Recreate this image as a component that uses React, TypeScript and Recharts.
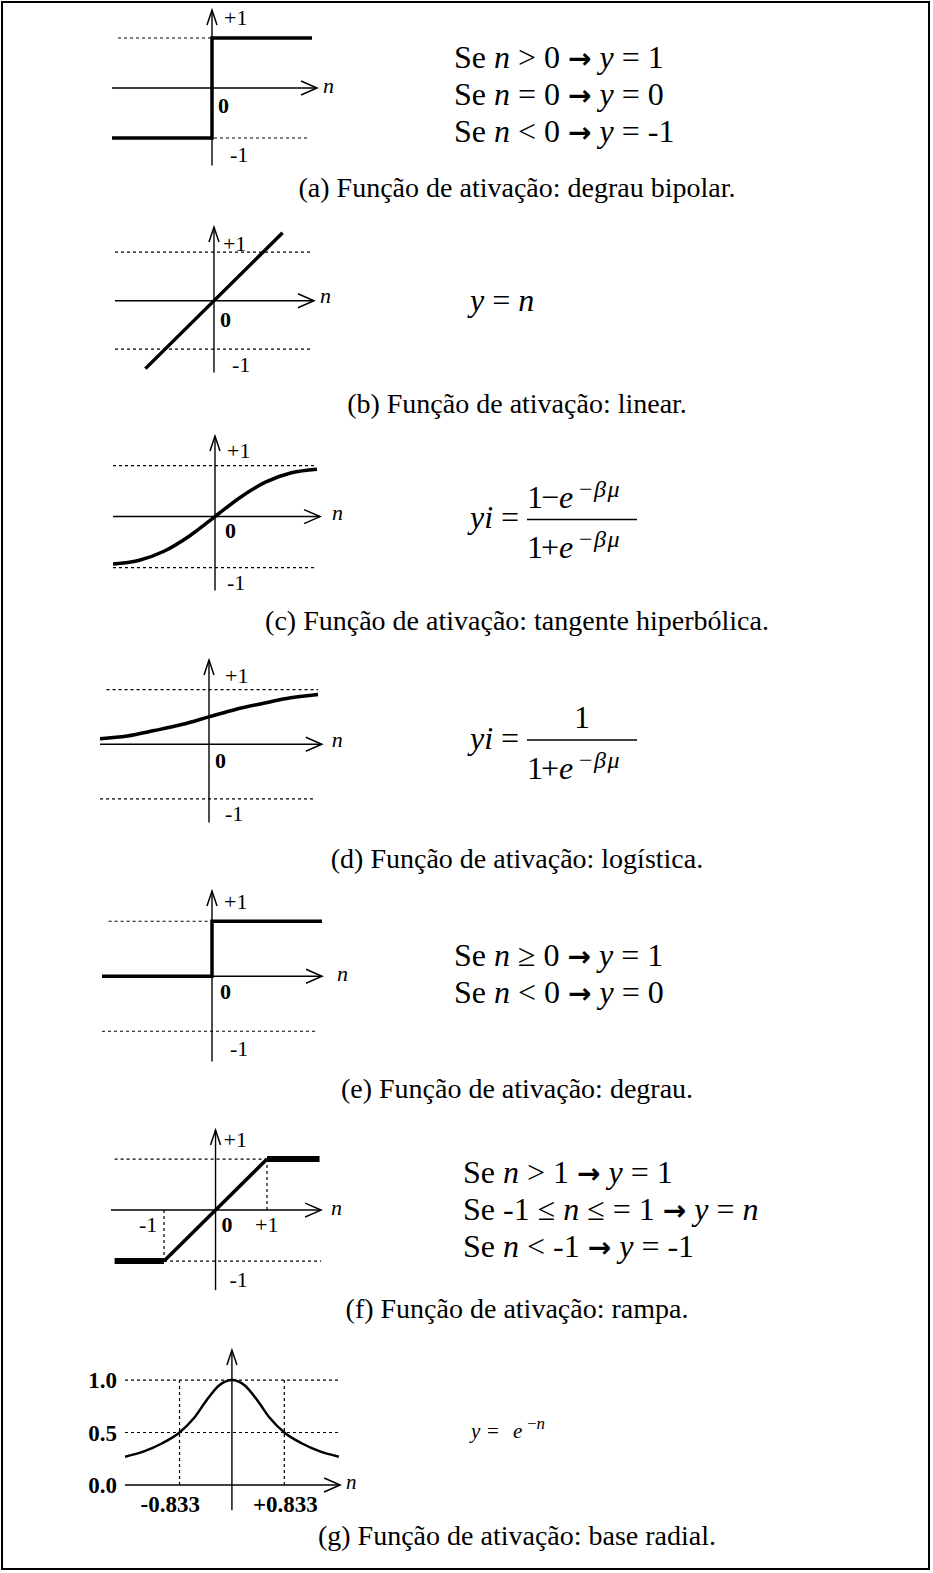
import React from 'react';
import { LineChart, Line, XAxis, YAxis, ReferenceLine, ReferenceDot } from 'recharts';

const SERIF = '"Liberation Serif", "Times New Roman", serif';
const ARROW_FONT = '"DejaVu Sans", sans-serif';

// (a) bipolar step
const bipolarN = [-2, 0, 0, 2];
const bipolarY = [-1, -1, 1, 1];
// (b) linear
const linearN = [-1.4, 1.4];
const linearY = [-1.4, 1.4];
// (c) hyperbolic tangent
const tanhN = [-2, -1.5, -1, -0.5, 0, 0.5, 1, 1.5, 2];
const tanhY = [-0.93, -0.86, -0.68, -0.38, 0, 0.38, 0.68, 0.86, 0.93];
// (d) logistic
const logisticN = [-2, -1.5, -1, -0.5, 0, 0.5, 1, 1.5, 2];
const logisticY = [0.1, 0.15, 0.25, 0.36, 0.5, 0.64, 0.75, 0.85, 0.91];
// (e) step
const stepN = [-2, 0, 0, 2];
const stepY = [0, 0, 1, 1];
// (f) ramp
const rampLowN = [-1.96, -1];
const rampLowY = [-1, -1];
const rampMidN = [-1, 1];
const rampMidY = [-1, 1];
const rampHighN = [1, 2.02];
const rampHighY = [1, 1];
// (g) radial basis
const radialN = [-1.7, -1.4, -1.1, -0.833, -0.6, -0.4, -0.2, 0, 0.2, 0.4, 0.6, 0.833, 1.1, 1.4, 1.7];
const radialY = [0.27, 0.32, 0.4, 0.5, 0.64, 0.81, 0.95, 1, 0.95, 0.81, 0.64, 0.5, 0.4, 0.32, 0.27];

// tick labels
const unitTicks = ['+1', '0', '-1'];
const radialTicks = ['1.0', '0.5', '0.0'];
const radialCuts = ['-0.833', '+0.833'];

const captions = [
  '(a) Função de ativação: degrau bipolar.',
  '(b) Função de ativação: linear.',
  '(c) Função de ativação: tangente hiperbólica.',
  '(d) Função de ativação: logística.',
  '(e) Função de ativação: degrau.',
  '(f) Função de ativação: rampa.',
  '(g) Função de ativação: base radial.',
];
const captionBaselines = [197, 413, 630, 868, 1098, 1318, 1545];

const pts = (ns: number[], ys: number[]) => ns.map((n, i) => ({ n, y: ys[i] }));

type Geo = { cx: number; cy: number; ux: number; uy: number; xDom: [number, number]; yDom: [number, number] };

function dotted(key: string, x1: number, y1: number, x2: number, y2: number) {
  return (
    <ReferenceLine
      key={key}
      segment={[{ x: x1, y: y1 }, { x: x2, y: y2 }]}
      stroke="#000"
      strokeWidth={1.2}
      strokeDasharray="3 3"
      ifOverflow="visible"
    />
  );
}

function solid(key: string, x1: number, y1: number, x2: number, y2: number) {
  return (
    <ReferenceLine
      key={key}
      segment={[{ x: x1, y: y1 }, { x: x2, y: y2 }]}
      stroke="#000"
      strokeWidth={1.4}
      ifOverflow="visible"
    />
  );
}

function arrowRight(key: string, x: number, y: number) {
  return (
    <ReferenceDot
      key={key}
      x={x}
      y={y}
      r={0}
      ifOverflow="visible"
      shape={(p: any) => (
        <path d={`M${p.cx - 16},${p.cy - 7} L${p.cx},${p.cy} L${p.cx - 16},${p.cy + 7}`} fill="none" stroke="#000" strokeWidth={1.5} />
      )}
    />
  );
}

function arrowUp(key: string, x: number, y: number) {
  return (
    <ReferenceDot
      key={key}
      x={x}
      y={y}
      r={0}
      ifOverflow="visible"
      shape={(p: any) => (
        <path d={`M${p.cx - 5},${p.cy + 15} L${p.cx},${p.cy} L${p.cx + 5},${p.cy + 15}`} fill="none" stroke="#000" strokeWidth={1.5} />
      )}
    />
  );
}

function label(
  key: string,
  x: number,
  y: number,
  text: string,
  dx: number,
  dy: number,
  opts: { size?: number; bold?: boolean; italic?: boolean; anchor?: 'start' | 'middle' | 'end' } = {}
) {
  return (
    <ReferenceDot
      key={key}
      x={x}
      y={y}
      r={0}
      ifOverflow="visible"
      shape={(p: any) => (
        <text
          x={p.cx + dx}
          y={p.cy + dy}
          fontFamily={SERIF}
          fontSize={opts.size ?? 22}
          fontWeight={opts.bold ? 'bold' : 'normal'}
          fontStyle={opts.italic ? 'italic' : 'normal'}
          textAnchor={opts.anchor ?? 'start'}
          fill="#000"
        >
          {text}
        </text>
      )}
    />
  );
}

function curve(key: string, ns: number[], ys: number[], width: number, type: 'linear' | 'monotone' = 'linear') {
  return (
    <Line
      key={key}
      data={pts(ns, ys)}
      dataKey="y"
      type={type}
      stroke="#000"
      strokeWidth={width}
      dot={false}
      activeDot={false}
      isAnimationActive={false}
    />
  );
}

function Plot({ geo, children }: { geo: Geo; children: React.ReactNode }) {
  const { cx, cy, ux, uy, xDom, yDom } = geo;
  const left = cx + xDom[0] * ux;
  const width = (xDom[1] - xDom[0]) * ux;
  const top = cy - yDom[1] * uy;
  const height = (yDom[1] - yDom[0]) * uy;
  return (
    <div style={{ position: 'absolute', left, top }}>
      <LineChart width={width} height={height} margin={{ top: 0, right: 0, bottom: 0, left: 0 }}>
        <XAxis type="number" dataKey="n" domain={xDom} hide allowDataOverflow />
        <YAxis type="number" domain={yDom} hide allowDataOverflow />
        {children}
      </LineChart>
    </div>
  );
}

const geoA: Geo = { cx: 212, cy: 88, ux: 50, uy: 50, xDom: [-2, 2.1], yDom: [-1.55, 1.56] };
const geoB: Geo = { cx: 214, cy: 301, ux: 49, uy: 48.5, xDom: [-2.02, 2.04], yDom: [-1.48, 1.52] };
const geoC: Geo = { cx: 215, cy: 517, ux: 51, uy: 51, xDom: [-2, 2.06], yDom: [-1.45, 1.58] };
const geoD: Geo = { cx: 209, cy: 744, ux: 54.5, uy: 54.7, xDom: [-2, 2.07], yDom: [-1.43, 1.54] };
const geoE: Geo = { cx: 211.7, cy: 976.7, ux: 55, uy: 55, xDom: [-2, 2], yDom: [-1.55, 1.55] };
const geoF: Geo = { cx: 216, cy: 1210, ux: 51.5, uy: 51, xDom: [-2.03, 2.05], yDom: [-1.57, 1.57] };
const geoG: Geo = { cx: 231.7, cy: 1485, ux: 62.9, uy: 105, xDom: [-1.7, 1.72], yDom: [-0.24, 1.286] };

function axes(g: Geo, xStart: number) {
  return [
    solid('xa', xStart, 0, g.xDom[1], 0),
    solid('ya', 0, g.yDom[0], 0, g.yDom[1]),
    arrowRight('xar', g.xDom[1], 0),
    arrowUp('yar', 0, g.yDom[1]),
  ];
}

function Arrow() {
  return (
    <tspan fontFamily={ARROW_FONT} fontWeight="bold" fontSize={28}>
      {'→'}
    </tspan>
  );
}

function I({ children }: { children: React.ReactNode }) {
  return <tspan fontStyle="italic">{children}</tspan>;
}

export default function App() {
  return (
    <div style={{ position: 'absolute', left: 0, top: 0, width: 933, height: 1573, background: '#fff' }}>
      <style>{'.recharts-surface{overflow:visible}'}</style>

      {/* (a) */}
      <Plot geo={geoA}>
        {axes(geoA, -2)}
        {dotted('p1', -1.88, 1, 0, 1)}
        {dotted('m1', -2, -1, 1.92, -1)}
        {curve('c', bipolarN, bipolarY, 3.5)}
        {label('l1', 0, 1, unitTicks[0], 12, -13)}
        {label('l0', 0, 0, unitTicks[1], 6, 25, { bold: true })}
        {label('l2', 0, -1, unitTicks[2], 18, 24)}
        {label('ln', 2.1, 0, 'n', 6, 5, { italic: true })}
      </Plot>

      {/* (b) */}
      <Plot geo={geoB}>
        {axes(geoB, -2.02)}
        {dotted('p1', -2.02, 1, 2.02, 1)}
        {dotted('m1', -2.02, -1, 2.02, -1)}
        {curve('c', linearN, linearY, 3.5)}
        {label('l1', 0, 1, unitTicks[0], 9, -1)}
        {label('l0', 0, 0, unitTicks[1], 6, 26, { bold: true })}
        {label('l2', 0, -1, unitTicks[2], 18, 23)}
        {label('ln', 1.96, 0, 'n', 10, 2, { italic: true })}
      </Plot>

      {/* (c) */}
      <Plot geo={geoC}>
        {axes(geoC, -2)}
        {dotted('p1', -2, 1, 2, 1)}
        {dotted('m1', -2, -1, 2, -1)}
        {curve('c', tanhN, tanhY, 3.5, 'monotone')}
        {label('l1', 0, 1, unitTicks[0], 12, -8)}
        {label('l0', 0, 0, unitTicks[1], 10, 21, { bold: true })}
        {label('l2', 0, -1, unitTicks[2], 12, 22)}
        {label('ln', 2.06, 0, 'n', 12, 3, { italic: true })}
      </Plot>

      {/* (d) */}
      <Plot geo={geoD}>
        {axes(geoD, -2)}
        {dotted('p1', -1.88, 1, 2, 1)}
        {dotted('m1', -2, -1, 1.91, -1)}
        {curve('c', logisticN, logisticY, 3.5, 'monotone')}
        {label('l1', 0, 1, unitTicks[0], 16, -7)}
        {label('l0', 0, 0, unitTicks[1], 6, 24, { bold: true })}
        {label('l2', 0, -1, unitTicks[2], 16, 22)}
        {label('ln', 2.07, 0, 'n', 10, 3, { italic: true })}
      </Plot>

      {/* (e) */}
      <Plot geo={geoE}>
        {axes(geoE, -2)}
        {dotted('p1', -1.88, 1, 0, 1)}
        {dotted('m1', -2, -1, 1.88, -1)}
        {curve('c', stepN, stepY, 3.5)}
        {label('l1', 0, 1, unitTicks[0], 12, -12)}
        {label('l0', 0, 0, unitTicks[1], 8, 23, { bold: true })}
        {label('l2', 0, -1, unitTicks[2], 18, 25)}
        {label('ln', 2, 0, 'n', 15, 5, { italic: true })}
      </Plot>

      {/* (f) */}
      <Plot geo={geoF}>
        {axes(geoF, -2.03)}
        {dotted('p1', -1.96, 1, 1, 1)}
        {dotted('m1', -1, -1, 2.05, -1)}
        {dotted('v1', 1, 0, 1, 1)}
        {dotted('v2', -1, -1, -1, 0)}
        {curve('lo', rampLowN, rampLowY, 6)}
        {curve('mid', rampMidN, rampMidY, 3.5)}
        {curve('hi', rampHighN, rampHighY, 6)}
        {label('l1', 0, 1, unitTicks[0], 8, -12)}
        {label('l0', 0, 0, unitTicks[1], 6, 22, { bold: true })}
        {label('lp', 1, 0, '+1', -12, 22)}
        {label('lm', -1, 0, '-1', -25, 22)}
        {label('l2', 0, -1, unitTicks[2], 14, 26)}
        {label('ln', 2.05, 0, 'n', 10, 5, { italic: true })}
      </Plot>

      {/* (g) */}
      <Plot geo={geoG}>
        {solid('xa', -1.7, 0, 1.72, 0)}
        {solid('ya', 0, -0.24, 0, 1.286)}
        {arrowRight('xar', 1.72, 0)}
        {arrowUp('yar', 0, 1.286)}
        {dotted('h1', -1.7, 1, 1.72, 1)}
        {dotted('h5', -1.7, 0.5, 1.72, 0.5)}
        {dotted('vl', -0.833, 0, -0.833, 1)}
        {dotted('vr', 0.833, 0, 0.833, 1)}
        {curve('c', radialN, radialY, 2.5, 'monotone')}
        {label('t1', -1.7, 1, radialTicks[0], -8, 8, { bold: true, size: 23, anchor: 'end' })}
        {label('t5', -1.7, 0.5, radialTicks[1], -8, 8, { bold: true, size: 23, anchor: 'end' })}
        {label('t0', -1.7, 0, radialTicks[2], -8, 8, { bold: true, size: 23, anchor: 'end' })}
        {label('cl', 0, 0, radialCuts[0], -32, 27, { bold: true, size: 23, anchor: 'end' })}
        {label('cr', 0, 0, radialCuts[1], 21, 27, { bold: true, size: 23 })}
        {label('ln', 1.72, 0, 'n', 6, 4, { italic: true, size: 21 })}
      </Plot>

      {/* frame, formulas and captions */}
      <svg width={933} height={1573} style={{ position: 'absolute', left: 0, top: 0, pointerEvents: 'none' }}>
        <rect x={2} y={2} width={927} height={1567} fill="none" stroke="#000" strokeWidth={2} />
        <g fontFamily={SERIF} fontSize={32} fill="#000">
          {/* (a) */}
          <text x={454} y={68}>Se <I>n</I> &gt; 0 <Arrow /> <I>y</I> = 1</text>
          <text x={454} y={105}>Se <I>n</I> = 0 <Arrow /> <I>y</I> = 0</text>
          <text x={454} y={142}>Se <I>n</I> &lt; 0 <Arrow /> <I>y</I> = -1</text>
          {/* (b) */}
          <text x={470} y={311}><I>y</I> = <I>n</I></text>
          {/* (c) */}
          <text x={470} y={528}><I>yi</I></text>
          <text x={501} y={528}>=</text>
          <text x={527} y={508}>1</text>
          <text x={541} y={508}>−</text>
          <text x={559} y={508}><I>e</I></text>
          <text x={579} y={497} fontSize={24} letterSpacing={1.5}>−<I>βμ</I></text>
          <line x1={527} y1={519.5} x2={637} y2={519.5} stroke="#000" strokeWidth={1.4} />
          <text x={527} y={558}>1</text>
          <text x={541} y={558}>+</text>
          <text x={559} y={558}><I>e</I></text>
          <text x={579} y={547} fontSize={24} letterSpacing={1.5}>−<I>βμ</I></text>
          {/* (d) */}
          <text x={470} y={749}><I>yi</I></text>
          <text x={501} y={749}>=</text>
          <text x={582} y={728} textAnchor="middle">1</text>
          <line x1={527} y1={740} x2={637} y2={740} stroke="#000" strokeWidth={1.4} />
          <text x={527} y={779}>1</text>
          <text x={541} y={779}>+</text>
          <text x={559} y={779}><I>e</I></text>
          <text x={579} y={768} fontSize={24} letterSpacing={1.5}>−<I>βμ</I></text>
          {/* (e) */}
          <text x={454} y={966}>Se <I>n</I>  ≥ 0 <Arrow /> <I>y</I> = 1</text>
          <text x={454} y={1003}>Se <I>n</I> &lt; 0 <Arrow /> <I>y</I> = 0</text>
          {/* (f) */}
          <text x={463} y={1183}>Se <I>n</I> &gt; 1 <Arrow /> <I>y</I> = 1</text>
          <text x={463} y={1220}>Se -1 ≤ <I>n</I> ≤ = 1 <Arrow /> <I>y</I> = <I>n</I></text>
          <text x={463} y={1257}>Se <I>n</I> &lt; -1 <Arrow /> <I>y</I> = -1</text>
          {/* (g) */}
          <text x={471} y={1438} fontSize={21}><I>y</I></text>
          <text x={487} y={1438} fontSize={21}>=</text>
          <text x={513} y={1438} fontSize={21}><I>e</I></text>
          <text x={527} y={1429} fontSize={17}>−<I>n</I></text>
        </g>
        <g fontFamily={SERIF} fontSize={28} fill="#000" textAnchor="middle">
          {captions.map((c, i) => (
            <text key={c} x={517} y={captionBaselines[i]}>
              {c}
            </text>
          ))}
        </g>
      </svg>
    </div>
  );
}
